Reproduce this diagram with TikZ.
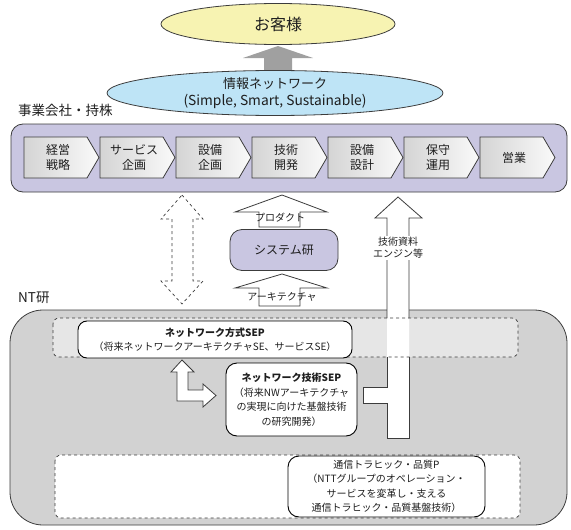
\documentclass[tikz,border=0pt]{standalone}
\usepackage{fontspec}
\setmainfont{Noto Sans CJK JP}
\usetikzlibrary{shapes.geometric}
\definecolor{custY}{RGB}{247,243,178}
\definecolor{infoB}{RGB}{190,228,246}
\definecolor{lav}{RGB}{201,198,225}
\definecolor{ntG}{RGB}{210,210,210}
\definecolor{bandG}{RGB}{230,230,230}
\definecolor{edge}{RGB}{60,60,60}
\definecolor{arrG}{RGB}{160,160,160}
\definecolor{chevL}{RGB}{212,212,212}
\definecolor{chevR}{RGB}{250,250,250}
\definecolor{txt}{RGB}{30,30,30}
\begin{document}
\begin{tikzpicture}[x=1pt,y=-1pt,
  every node/.style={text=txt},
  ln/.style={draw=edge,line width=0.8pt},
  chev/.style={ln,left color=chevL,right color=chevR},
  chevtxt/.style={align=center,font=\fontsize{12}{14.5}\selectfont},
  lavbox/.style={ln,fill=lav,rounded corners=12pt},
  wbox/.style={draw=black,line width=0.9pt,fill=white,rounded corners=9pt,align=center,inner sep=0pt,font=\fontsize{10}{14.5}\selectfont},
  outarr/.style={ln,fill=white},
  lbl/.style={font=\fontsize{10}{12}\selectfont,inner sep=1pt},
  head/.style={font=\fontsize{13.5}{15}\selectfont,anchor=west,inner sep=0pt}
]
\useasboundingbox (0,0) rectangle (571,530);

% top: customer and information network
\fill[arrG] (264,72) -- (264,58) -- (243,58) -- (278,46) -- (313,58) -- (292,58) -- (292,72) -- cycle;
\node[ellipse,ln,fill=custY,minimum width=234pt,minimum height=41pt,inner sep=0pt,
  font=\fontsize{16}{18}\selectfont] (cust) at (278,24) {お客様};
\node[ellipse,ln,fill=infoB,minimum width=336pt,minimum height=45pt,inner sep=0pt,align=center,
  font=\fontsize{13}{17.5}\selectfont] (info) at (275,93) {情報ネットワーク\\{\fontsize{13.8}{17.5}\selectfont(Simple, Smart, Sustainable)}};

% business companies
\node[head] (bizl) at (18,110) {事業会社・持株};
\draw[lavbox] (11,124) rectangle (567,192);
\foreach \i/\t in {0/{経営\\戦略},1/{サービス\\企画},2/{設備\\企画},3/{技術\\開発},4/{設備\\設計},5/{保守\\運用},6/{営業}} {
  \pgfmathsetmacro\xx{24+76*\i}
  \draw[chev] (\xx,137) -- ++(63,0) -- ++(12,20.5) -- ++(-12,20.5) -- ++(-63,0) -- cycle;
  \node[chevtxt] (c\i) at (\xx+34,157.5) {\t};
}

% middle arrows
\draw[ln,dashed,line width=0.7pt] (182,195) -- (203,219) -- (193,219) -- (193,281) -- (203,281) -- (182,304)
  -- (161,281) -- (172,281) -- (172,219) -- (161,219) -- cycle;
\draw[outarr] (259,227) -- (259,212) -- (235,212) -- (282,195) -- (327,212) -- (300,212) -- (300,227) -- cycle;
\node[lbl] (prod) at (280,218) {プロダクト};
\node[lavbox,minimum width=108pt,minimum height=41pt,font=\fontsize{12}{14}\selectfont] (sys) at (284,250) {システム研};
\draw[outarr] (259,306) -- (259,288) -- (235,288) -- (282,274) -- (327,288) -- (300,288) -- (300,306) -- cycle;
\node[lbl] (arch) at (282,297) {アーキテクチャ};

% NT lab
\node[head] (ntl) at (18,298) {NT研};
\draw[ln,fill=ntG,rounded corners=33pt] (10,310) rectangle (567,525);
\fill[bandG,rounded corners=6pt] (53,318) rectangle (518,357);
\fill[white] (387,218) -- (375,218) -- (398,197) -- (422,218) -- (409,218) -- (409,438) -- (387,438)
  -- (387,403) -- (363,403) -- (363,387) -- (387,387) -- cycle;
\draw[edge,dashed,line width=0.7pt,rounded corners=6pt] (53,318) rectangle (518,357);
\draw[ln] (387,318) -- (387,218) -- (375,218) -- (398,197) -- (422,218) -- (409,218) -- (409,318);
\draw[ln] (387,357) -- (387,387) -- (363,387) -- (363,403) -- (387,403) -- (387,438) -- (409,438) -- (409,357);
\node[lbl,fill=white,align=center,font=\fontsize{10}{12}\selectfont] (tech) at (398,248) {技術資料\\エンジン等};

\node[wbox,minimum width=274pt,minimum height=37pt] (sep1) at (215,339.5)
  {\textbf{ネットワーク方式SEP}\\（将来ネットワークアーキテクチャSE、サービスSE）};

\draw[outarr] (182,360) -- (194,372) -- (188,372) -- (188,390) -- (203,390) -- (203,384) -- (216,395.5)
  -- (203,407) -- (203,401) -- (177,401) -- (177,372) -- (171,372) -- cycle;
\node[wbox,minimum width=131pt,minimum height=73pt,rounded corners=11pt] (sep2) at (291.5,399.5)
  {\textbf{ネットワーク技術SEP}\\（将来NWアーキテクチャ\\の実現に向けた基盤技術\\の研究開発）};

\draw[edge,dashed,line width=0.7pt,fill=white,rounded corners=6pt] (55,455) rectangle (520,518);
\node[wbox,minimum width=197pt,minimum height=61pt,rounded corners=11pt] (traf) at (386.5,486.5)
  {通信トラヒック・品質P\\（NTTグループのオペレーション・\\サービスを変革し・支える\\通信トラヒック・品質基盤技術）};
\end{tikzpicture}
\end{document}
